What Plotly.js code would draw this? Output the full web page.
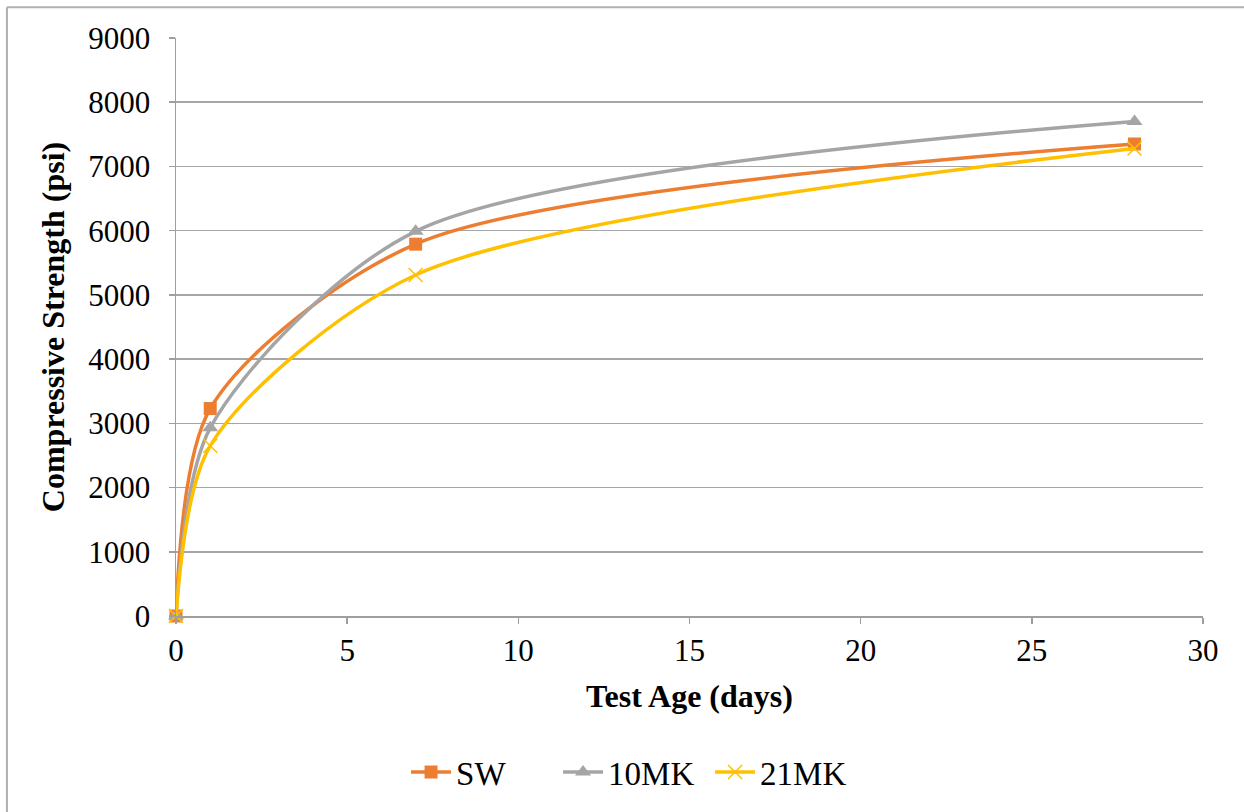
<!DOCTYPE html>
<html>
<head>
<meta charset="utf-8">
<script src="https://cdn.plot.ly/plotly-3.0.1.min.js"></script>
<style>html,body{margin:0;padding:0;background:#fff;}#chart{width:1244px;height:812px;}</style>
</head>
<body>
<div id="chart"></div>
<script>
const testAge = [0, 1, 7, 28];
const swValues = [0, 3230, 5790, 7350];
const mk10Values = [0, 2930, 5990, 7700];
const mk21Values = [0, 2650, 5310, 7280];
const seriesNames = ["SW", "10MK", "21MK"];
const xTicks = [0, 5, 10, 15, 20, 25, 30];
const yTicks = [0, 1000, 2000, 3000, 4000, 5000, 6000, 7000, 8000, 9000];

const colors = ["#ED7D31", "#A5A5A5", "#FFC000"];
const symbols = ["square", "triangle-up", "x-thin-open"];
const vals = [swValues, mk10Values, mk21Values];

const traces = vals.map((v, i) => ({
  x: testAge, y: v, name: seriesNames[i], type: "scatter", mode: "lines+markers",
  cliponaxis: false,
  line: {color: colors[i], width: 3.5, shape: "spline", smoothing: 0.8},
  marker: {symbol: symbols[i], size: i === 0 ? 13 : 14, color: colors[i],
           line: {color: colors[i], width: i === 2 ? 1.5 : 0}}
}));

const font = "'Liberation Serif', 'Times New Roman', serif";
const layout = {
  width: 1244, height: 812,
  margin: {l: 176, r: 41, t: 38, b: 194},
  paper_bgcolor: "#fff", plot_bgcolor: "#fff",
  font: {family: font, color: "#000", size: 31},
  showlegend: true,
  legend: {orientation: "h", x: 0.446, xanchor: "center", y: -0.27, yanchor: "middle",
           font: {size: 33, family: font}, entrywidth: 97, itemwidth: 40},
  xaxis: {
    range: [0, 30], tickvals: xTicks, ticktext: xTicks.map(String),
    showgrid: false, zeroline: false, showline: true, linecolor: "#9e9e9e", linewidth: 1.5,
    ticks: "outside", ticklen: 6, tickcolor: "#9e9e9e", tickwidth: 1.5,
    tickfont: {size: 31, family: font},
    title: {text: "<b>Test Age (days)</b>", font: {size: 32, family: font}, standoff: 18}
  },
  yaxis: {
    range: [0, 9000], tickvals: yTicks, ticktext: yTicks.map(String),
    showgrid: true, gridcolor: "#a6a6a6", gridwidth: 1.5, zeroline: false,
    showline: true, linecolor: "#9e9e9e", linewidth: 1.5,
    ticks: "outside", ticklen: 6, tickcolor: "#9e9e9e", tickwidth: 1.5,
    ticklabelstandoff: 12,
    tickfont: {size: 31, family: font},
    title: {text: "<b>Compressive Strength (psi)</b>", font: {size: 32, family: font}, standoff: 14}
  },
  shapes: [
    {type: "line", xref: "paper", yref: "paper", x0: -0.1646, x1: -0.1646, y0: -0.4, y1: 1.0534,
     line: {color: "#b0b0b0", width: 2}},
    {type: "line", xref: "paper", yref: "paper", x0: -0.1646, x1: 1.1, y0: 1.0534, y1: 1.0534,
     line: {color: "#b0b0b0", width: 2}}
  ]
};

Plotly.newPlot("chart", traces, layout, {displayModeBar: false, staticPlot: true});
</script>
</body>
</html>
